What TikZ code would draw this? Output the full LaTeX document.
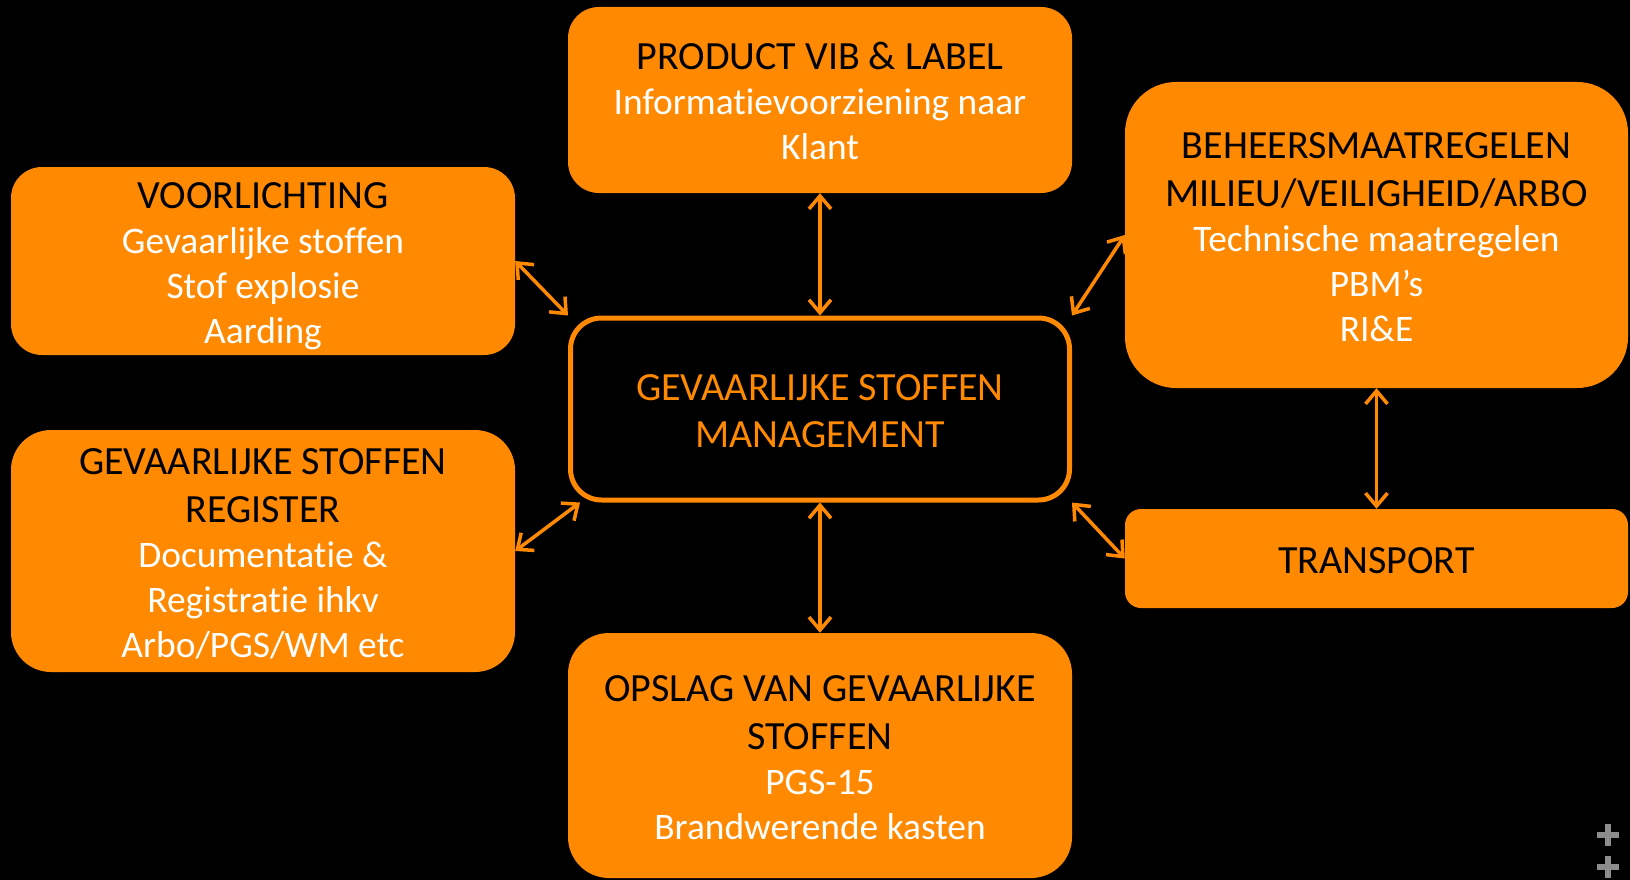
\documentclass[tikz,border=0pt]{standalone}
\usepackage{fontspec}
\setmainfont{Carlito}[Ligatures=NoCommon]
\usetikzlibrary{arrows.meta,calc}
\definecolor{gsorange}{RGB}{255,137,0}
\definecolor{gsgray}{RGB}{140,140,140}
\newcommand{\kop}[1]{\textcolor{black}{\fontsize{40}{45}\selectfont #1}}
\newcommand{\regel}{\rule[-8pt]{0pt}{45pt}}

\begin{document}
\begin{tikzpicture}[x=1pt,y=-1pt,
    box/.style={fill=gsorange, text=white, align=center, inner sep=0pt,
      font=\fontsize{37.4}{45}\selectfont},
    hub/.style={draw=gsorange, line width=5pt, text=gsorange, align=center,
      inner sep=0pt, font=\fontsize{40}{47}\selectfont},
    link/.style={draw=gsorange, line width=3.5pt,
      {Straight Barb[length=13pt,width=22pt]}-{Straight Barb[length=13pt,width=22pt]}}]
  %%%%% ACHTERGROND %%%%%
  \fill[black] (0,0) rectangle (1630,880);
  \useasboundingbox (0,0) rectangle (1630,880);

  %%%%% BLOKKEN %%%%%
  \node[hub, rounded corners=31, minimum width=499, minimum height=182]
    (center) at (820,409) {\regel GEVAARLIJKE STOFFEN\\MANAGEMENT\regel};

  \node[box, rounded corners=31, minimum width=504, minimum height=186]
    (prod) at (820,100) {\regel\kop{PRODUCT VIB \& LABEL}\\Informatievoorziening naar\\Klant\regel};

  \node[box, rounded corners=31, minimum width=504, minimum height=188]
    (voor) at (263,261) {\regel\kop{VOORLICHTING}\\Gevaarlijke stoffen\\Stof explosie\\Aarding\regel};

  \node[box, rounded corners=40, minimum width=504, minimum height=242]
    (reg) at (263,551) {\regel\kop{GEVAARLIJKE STOFFEN}\\[3pt]\kop{REGISTER}\\Documentatie \&\\Registratie ihkv\\Arbo/PGS/WM etc\regel};

  \node[box, rounded corners=51, minimum width=503, minimum height=306]
    (beh) at (1376.5,235) {\regel\kop{BEHEERSMAATREGELEN}\\[3pt]\kop{MILIEU/VEILIGHEID/ARBO}\\Technische maatregelen\\PBM’s\\RI\&E\regel};

  \node[box, rounded corners=16, minimum width=503, minimum height=99]
    (trans) at (1376.5,558.5) {\regel\kop{TRANSPORT}\regel};

  \node[box, rounded corners=41, minimum width=504, minimum height=245]
    (opslag) at (820,755.5) {\regel\kop{OPSLAG VAN GEVAARLIJKE}\\[3pt]\kop{STOFFEN}\\PGS-15\\Brandwerende kasten\regel};

  %%%%% PIJLEN %%%%%
  \draw[link] (prod) -- (center);
  \draw[link] (center) -- (opslag);
  \draw[link] (beh) -- (trans);
  \draw[link] (voor.east) -- (center.north west);
  \draw[link] (reg.east) -- ($(center.south west)+(12,0)$);
  \draw[link] (center.north east) -- (beh.west);
  \draw[link] (center.south east) -- (trans.west);

  %%%%% PLUSJES %%%%%
  \draw[gsgray, line width=6] (1597,835) -- (1619,835) (1608,824) -- (1608,846);
  \draw[gsgray, line width=6] (1597,867) -- (1619,867) (1608,856) -- (1608,878);
\end{tikzpicture}
\end{document}
